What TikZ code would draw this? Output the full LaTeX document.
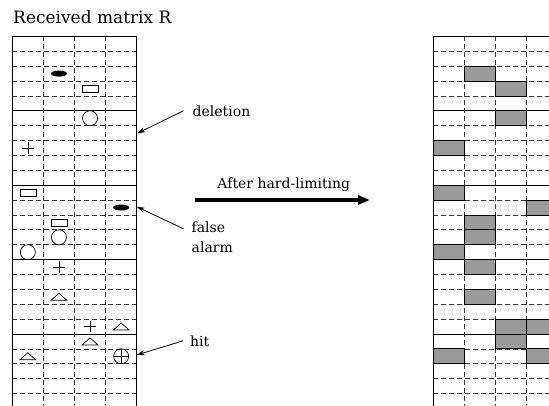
\documentclass[tikz,border=0pt]{standalone}
\usepackage{fontspec}
\setmainfont{DejaVu Serif}
\usetikzlibrary{arrows.meta,shapes.geometric,shapes.misc}
\begin{document}
\begin{tikzpicture}[x=1pt,y=-1pt,
  gridsolid/.style={line width=0.8pt, black},
  griddash/.style={line width=0.7pt, black!80, dash pattern=on 5pt off 3pt},
  sym/.style={line width=0.7pt, black, inner sep=0pt},
  oval/.style={sym, ellipse, fill=black, minimum width=16pt, minimum height=6pt},
  box/.style={sym, draw, rectangle, minimum width=16pt, minimum height=7pt},
  ring/.style={sym, draw, circle, minimum size=15pt},
  plussym/.style={sym, draw, cross out, rotate=45, minimum size=7.5pt},
  ringplus/.style={ring, path picture={\draw[line width=0.7pt] (path picture bounding box.north) -- (path picture bounding box.south) (path picture bounding box.west) -- (path picture bounding box.east);}},
  hardcell/.style={fill=black!40, draw=black, line width=0.8pt},
  lbl/.style={font=\fontsize{14}{20}\selectfont, inner sep=0pt},
  pointer/.style={line width=0.8pt, -{Stealth[length=8pt,width=5pt]}},
  tri/.pic={\draw[line width=0.7pt] (-8,3.5) -- (8,3.5) -- (0,-3.5) -- cycle;},
]
\useasboundingbox (0,0) rectangle (549,406);
\def\cw{31.1}
\def\rh{14.88}
\def\yT{36.4}
\def\xL{12.3}
\def\xR{433.3}

% ---------- left matrix grid ----------
\foreach \k in {1,...,24}{
  \pgfmathtruncatemacro\m{mod(\k,5)}
  \ifnum\m=0
    \draw[gridsolid] (\xL,\yT+\rh*\k) -- (\xL+4*\cw,\yT+\rh*\k);
  \else
    \draw[griddash] (\xL,\yT+\rh*\k) -- (\xL+4*\cw,\yT+\rh*\k);
  \fi
}
\foreach \j in {1,2,3}
  \draw[griddash] (\xL+\cw*\j,\yT) -- (\xL+\cw*\j,406);
\draw[gridsolid] (\xL,406) -- (\xL,\yT) -- (\xL+4*\cw,\yT) -- (\xL+4*\cw,406);

% ---------- right matrix grid ----------
\begin{scope}
\clip (0,0) rectangle (549,406);
\foreach \k in {1,...,24}{
  \pgfmathtruncatemacro\m{mod(\k,5)}
  \ifnum\m=0
    \draw[gridsolid] (\xR,\yT+\rh*\k) -- (\xR+4*\cw,\yT+\rh*\k);
  \else
    \draw[griddash] (\xR,\yT+\rh*\k) -- (\xR+4*\cw,\yT+\rh*\k);
  \fi
}
\foreach \j in {1,2,3}
  \draw[griddash] (\xR+\cw*\j,\yT) -- (\xR+\cw*\j,406);
\foreach \r/\c in {2/1,3/2,5/2,7/0,10/0,11/3,12/1,13/1,14/0,15/1,17/1,19/2,19/3,20/2,21/0,21/3}
  \draw[hardcell] (\xR+\cw*\c,\yT+\rh*\r) rectangle ++(\cw,\rh);
\draw[gridsolid] (\xR,406) -- (\xR,\yT) -- (\xR+4*\cw,\yT);
\end{scope}

% ---------- symbols in the received matrix ----------
\foreach \r/\c/\s [count=\n] in {2/1/oval,3/2/box,5/2/ring,7/0/plussym,10/0/box,11/3/oval,12/1/box,13/1/ring,14/0/ring,15/1/plussym,19/2/plussym,21/3/ringplus}
  \node[\s] (sym\n) at (\xL+\cw*\c+\cw/2,\yT+\rh*\r+\rh/2) {};
\foreach \r/\c [count=\n] in {17/1,19/3,20/2,21/0}
  \pic (tri\n) at (\xL+\cw*\c+\cw/2,\yT+\rh*\r+\rh/2) {tri};

% ---------- labels ----------
\node[lbl, font=\fontsize{17}{20}\selectfont, anchor=base west] (title) at (13,23.3) {Received matrix R};
\node[lbl, anchor=west, inner xsep=9pt] (del) at (183.5,110.8) {deletion};
\node[lbl, anchor=north west, inner xsep=8pt, align=left] (fa) at (183.5,221.8) {false\\alarm};
\node[lbl, anchor=west, inner xsep=7pt] (hit) at (183,340.8) {hit};
\node[lbl, anchor=base] (hl) at (283.8,188.3) {After hard-limiting};

\coordinate (delTip) at (137.3,133.3);
\coordinate (faTip) at (136.7,206.7);
\coordinate (hitTip) at (136.7,355);
\coordinate (bigL) at (195,200);
\coordinate (bigR) at (370,200);

\draw[pointer] (del.west) -- (delTip);
\draw[pointer] ([yshift=-7pt]fa.north west) -- (faTip);
\draw[pointer] (hit.west) -- (hitTip);
\draw[line width=3.3pt, -{Triangle[length=12pt,width=9pt]}] (bigL) -- (bigR);
\end{tikzpicture}
\end{document}
